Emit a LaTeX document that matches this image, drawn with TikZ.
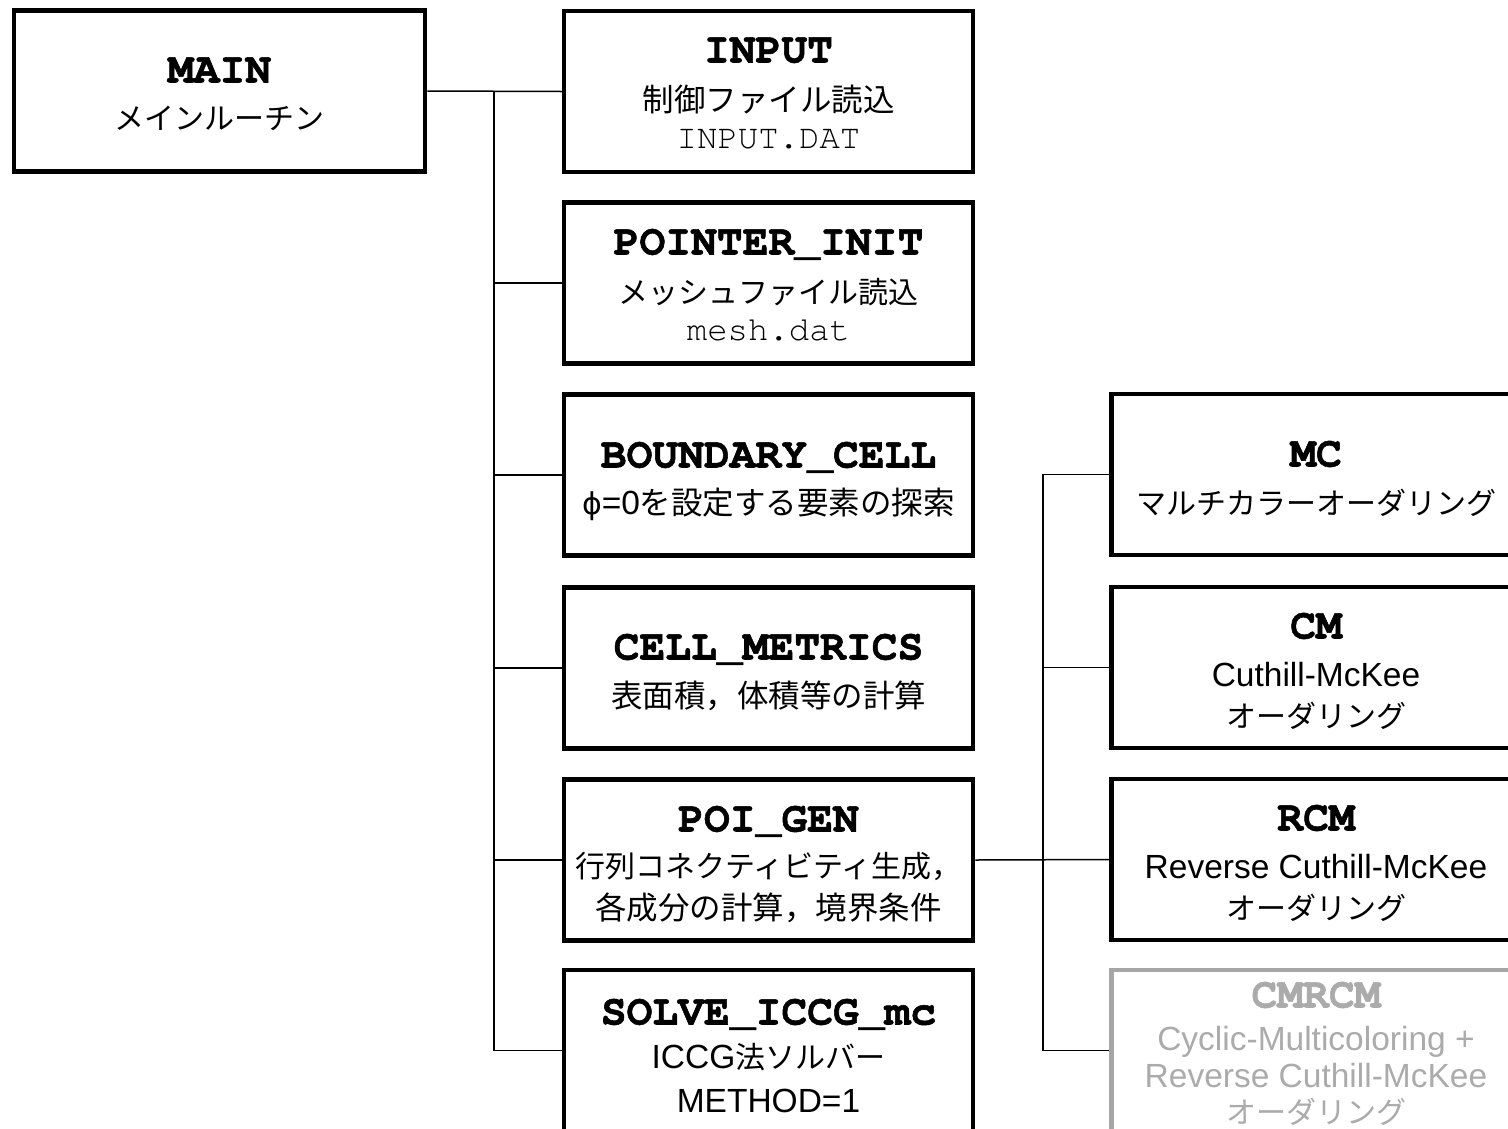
\documentclass[tikz,border=0pt]{standalone}
\usepackage{fontspec}
\setmainfont{Liberation Sans}
\newfontfamily\jpfam{Noto Sans CJK JP}
\newfontfamily\latfam{Liberation Sans}
\newfontfamily\monofam{texgyrecursor}[Extension=.otf, UprightFont=*-regular, BoldFont=*-bold, BoldFeatures={FakeBold=1.3}]
\newfontfamily\phifam{DejaVu Sans}
\newcommand\ttlf{\monofam\bfseries\fontsize{43}{50}\selectfont}
\newcommand\monof{\monofam\fontsize{34}{40}\selectfont}
\newcommand\jpf{\jpfam\fontsize{30}{36}\selectfont}
\newcommand\jpk{\jpfam\fontsize{31.5}{36}\selectfont}
\newcommand\latf{\latfam\fontsize{33.5}{40}\selectfont}
\newcommand\phif{\phifam\fontsize{30}{36}\selectfont}
\definecolor{ghostline}{HTML}{A6A6A6}
\definecolor{ghosttext}{HTML}{ABABAB}
\tikzset{
  box/.style={draw, line width=4.5pt, minimum width=409pt, minimum height=161pt, inner sep=0pt},
  ttl/.style={font=\ttlf, text height=23pt, text depth=0pt, inner sep=0pt},
  mono/.style={font=\monof, text height=19pt, text depth=0pt, inner sep=0pt},
  jp/.style={font=\jpf, text height=25pt, text depth=2.2pt, inner sep=0pt},
  lat/.style={font=\latf, text height=24pt, text depth=0pt, inner sep=0pt},
  conn/.style={line width=1.5pt},
}
\begin{document}
\begin{tikzpicture}[x=1pt,y=-1pt]
\useasboundingbox (0,0) rectangle (1508,1128);
\clip (0,0) rectangle (1508,1128);
% boxes
\node[box, minimum width=411pt] (main) at (219.5,91) {};
\node[box] (input)  at (768.5,91.5) {};
\node[box] (ptr)    at (768.5,283) {};
\node[box] (bnd)    at (768.5,475) {};
\node[box] (cellm)  at (768.5,668) {};
\node[box] (poigen) at (768.5,860) {};
\node[box] (solve)  at (768.5,1050.5) {};
\node[box] (mc)     at (1316,474.5) {};
\node[box] (cm)     at (1316,667.5) {};
\node[box] (rcm)    at (1316,859.5) {};
\node[box, draw=ghostline] (cmrcm) at (1316,1050.5) {};
% texts
\node[ttl] (main-1) at (219.5,71) {MAIN};
\node[jp]  (main-2) at (219.5,118) {メインルーチン};
\node[ttl]  (input-1) at (768.5,51) {INPUT};
\node[jp]   (input-2) at (768.5,100) {\jpk 制御ファイル読込};
\node[mono] (input-3) at (768.5,139) {INPUT.DAT};
\node[ttl]  (ptr-1) at (768.5,243) {POINTER\_INIT};
\node[jp]   (ptr-2) at (768.5,292) {メッシュファイル読込};
\node[mono] (ptr-3) at (768.5,331) {mesh.dat};
\node[ttl]  (bnd-1) at (768.5,456) {BOUNDARY\_CELL};
\node[jp]   (bnd-2) at (768.5,503) {{\phif ϕ}{\latf =0}{\jpk を設定する要素の探索}};
\node[ttl]  (cellm-1) at (768.5,648) {CELL\_METRICS};
\node[jp]   (cellm-2) at (768.5,696) {\jpk 表面積，体積等の計算};
\node[ttl]  (poigen-1) at (768.5,820) {POI\_GEN};
\node[jp]   (poigen-2) at (768.5,866) {行列コネクティビティ生成，};
\node[jp]   (poigen-3) at (768.5,908) {\jpk 各成分の計算，境界条件};
\node[ttl]  (solve-1) at (768.5,1013) {SOLVE\_ICCG\_mc};
\node[jp]   (solve-2) at (768.5,1057) {{\latf ICCG}法ソルバー};
\node[lat]  (solve-3) at (768.5,1100) {METHOD=1};
\node[ttl]  (mc-1) at (1316,455) {MC};
\node[jp]   (mc-2) at (1316,503) {マルチカラーオーダリング};
\node[ttl]  (cm-1) at (1316,627) {CM};
\node[lat]  (cm-2) at (1316,674) {Cuthill-McKee};
\node[jp]   (cm-3) at (1316,716) {オーダリング};
\node[ttl]  (rcm-1) at (1316,819) {RCM};
\node[lat]  (rcm-2) at (1316,866) {Reverse Cuthill-McKee};
\node[jp]   (rcm-3) at (1316,908) {オーダリング};
\node[ttl, text=ghosttext] (cmrcm-1) at (1316,996) {CMRCM};
\node[lat, text=ghosttext] (cmrcm-2) at (1316,1038) {Cyclic-Multicoloring +};
\node[lat, text=ghosttext] (cmrcm-3) at (1316,1075) {Reverse Cuthill-McKee};
\node[jp, text=ghosttext]  (cmrcm-4) at (1316,1112) {オーダリング};
% connectors
\coordinate (trunk) at (494,0);
\coordinate (rtrunk) at (1043,0);
\draw[conn] (main.east) -- (input.west);
\draw[conn] (input.west -| trunk) -- (solve.west -| trunk) -- (solve.west);
\draw[conn] (ptr.west -| trunk) -- (ptr.west);
\draw[conn] (bnd.west -| trunk) -- (bnd.west);
\draw[conn] (cellm.west -| trunk) -- (cellm.west);
\draw[conn] (poigen.west -| trunk) -- (poigen.west);
\draw[conn] (poigen.east) -- (rcm.west);
\draw[conn] (mc.west) -- (mc.west -| rtrunk) -- (cmrcm.west -| rtrunk) -- (cmrcm.west);
\draw[conn] (cm.west -| rtrunk) -- (cm.west);
\end{tikzpicture}
\end{document}
